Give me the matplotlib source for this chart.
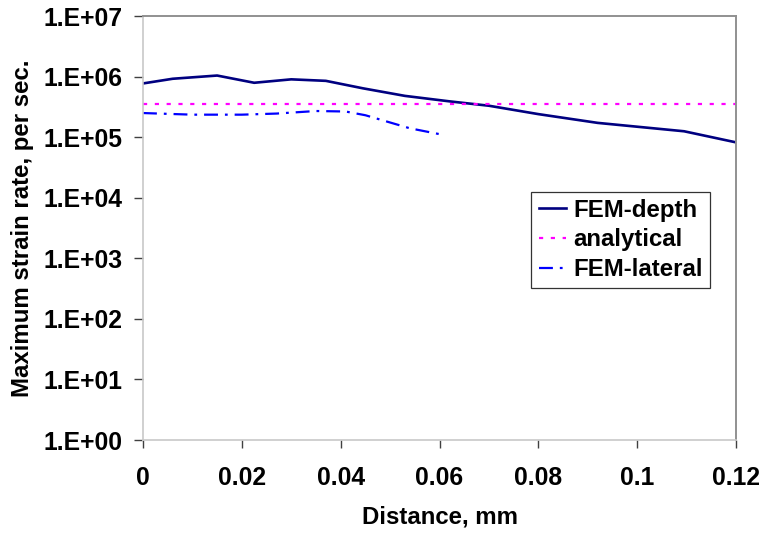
import numpy as np
import matplotlib.pyplot as plt
from matplotlib.ticker import FixedLocator, FuncFormatter, NullLocator

plt.rcParams['font.family'] = ['Liberation Sans', 'DejaVu Sans']
plt.rcParams['font.weight'] = 'bold'
plt.rcParams['lines.scale_dashes'] = False

# strain rate vs. distance
depth_x = [0, 0.006, 0.015, 0.0225, 0.03, 0.037, 0.0445, 0.053, 0.062,
           0.07, 0.08, 0.092, 0.1095, 0.12]
depth_y = [7.7e5, 9.2e5, 1.04e6, 7.9e5, 9.0e5, 8.5e5, 6.4e5, 4.8e5, 3.9e5,
           3.3e5, 2.4e5, 1.72e5, 1.25e5, 8.2e4]

analytical_x = [0, 0.12]
analytical_y = [3.5e5, 3.5e5]

lateral_x = [0, 0.01, 0.02, 0.027, 0.035, 0.041, 0.045, 0.054, 0.061]
lateral_y = [2.5e5, 2.35e5, 2.35e5, 2.45e5, 2.7e5, 2.65e5, 2.3e5, 1.4e5, 1.08e5]

x_ticks = [0, 0.02, 0.04, 0.06, 0.08, 0.1, 0.12]
x_ticklabels = ["0", "0.02", "0.04", "0.06", "0.08", "0.1", "0.12"]
y_ticks = [1e0, 1e1, 1e2, 1e3, 1e4, 1e5, 1e6, 1e7]

fs_tick = 17.8
fs = 17.3

fig = plt.figure(figsize=(7.59, 5.35), dpi=100)
ax = fig.add_axes([143 / 759, 1 - 440 / 535, 593 / 759, 424 / 535])

ax.plot(depth_x, depth_y, color="#000080", lw=1.9, label="FEM-depth")
ax.plot(analytical_x, analytical_y, color="#ff00ff", lw=1.6,
        dashes=(3, 5.5), label="analytical")
ax.plot(lateral_x, lateral_y, color="#0000ff", lw=1.6,
        dashes=(10, 5, 2, 5), label="FEM-lateral")

ax.set_yscale("log")
ax.set_xlim(0, 0.12)
ax.set_ylim(1e0, 1e7)

ax.xaxis.set_major_locator(FixedLocator(x_ticks))
ax.set_xticklabels(x_ticklabels)
ax.yaxis.set_major_locator(FixedLocator(y_ticks))
ax.yaxis.set_minor_locator(NullLocator())
ax.yaxis.set_major_formatter(FuncFormatter(lambda v, p: "1.E+%02d" % round(np.log10(v))))

ax.tick_params(axis="x", direction="out", length=6, width=1, color="#404040",
               pad=13, labelsize=fs_tick)
ax.tick_params(axis="y", direction="out", length=6.5, width=1, color="#404040",
               pad=8, labelsize=fs_tick)

for side in ["left", "bottom"]:
    ax.spines[side].set_color("#c8c8c8")
    ax.spines[side].set_linewidth(1.2)
for side in ["top", "right"]:
    ax.spines[side].set_color("#909090")
    ax.spines[side].set_linewidth(1.4)

ax.set_xlabel("Distance, mm", fontsize=fs, fontweight="bold", labelpad=11)
ax.set_ylabel("Maximum strain rate, per sec.", fontsize=fs, fontweight="bold",
              labelpad=7)

leg = ax.legend(loc="upper left", bbox_to_anchor=(0.655, 0.586), fontsize=fs,
                frameon=True, fancybox=False, shadow=False, handlelength=1.15,
                handletextpad=0.3, borderpad=0.3, labelspacing=0.28,
                borderaxespad=0)
leg.get_frame().set_edgecolor("black")
leg.get_frame().set_linewidth(0.9)

fig.savefig("out.png", dpi=100)
